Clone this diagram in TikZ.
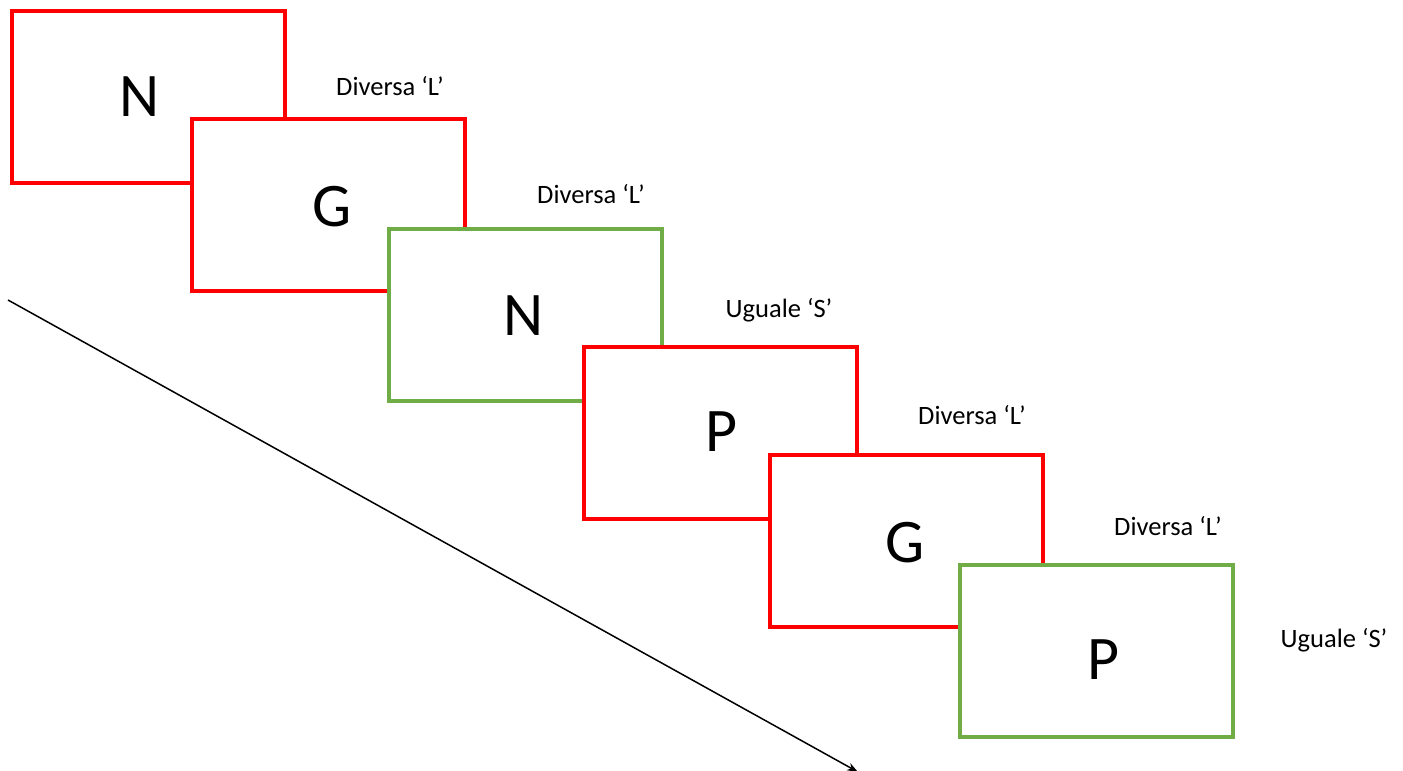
\documentclass[tikz,border=0pt]{standalone}
\usepackage{fontspec}
\setmainfont{Carlito}
\usetikzlibrary{arrows.meta}
\definecolor{boxred}{RGB}{255,0,0}
\definecolor{boxgreen}{RGB}{112,173,71}
\begin{document}
\begin{tikzpicture}[x=1pt,y=-1pt,
  card/.style={draw,line width=4pt,fill=white,minimum width=273pt,minimum height=172pt,inner sep=0pt},
  redcard/.style={card,draw=boxred},
  greencard/.style={card,draw=boxgreen},
  letter/.style={font=\fontsize{62}{62}\selectfont,inner sep=0pt,anchor=center},
  lab/.style={font=\fontsize{26.5}{26.5}\selectfont,inner sep=0pt,anchor=center}]
\useasboundingbox (0,0) rectangle (1403,771);
\coordinate (s) at (8,300);
\coordinate (e) at (858,772);
\draw[line width=1.5pt,-{Stealth[length=11pt,width=8pt]}] (s) -- (e);
\node[redcard] (b1) at (148.5,97) {};
\node[letter] (t1) at (140,97) {N};
\node[redcard] (b2) at (328,204.5) {};
\node[letter] (t2) at (332,207) {G};
\node[greencard] (b3) at (525,314.5) {};
\node[letter] (t3) at (524,316) {N};
\node[redcard] (b4) at (720,433) {};
\node[letter] (t4) at (722,432) {P};
\node[redcard] (b5) at (906,540.5) {};
\node[letter] (t5) at (905,543) {G};
\node[greencard] (b6) at (1096.5,651) {};
\node[letter] (t6) at (1104,660) {P};
\node[lab] (l1) at (390,86) {Diversa ‘L’};
\node[lab] (l2) at (591,194) {Diversa ‘L’};
\node[lab] (l3) at (779,310) {Uguale ‘S’};
\node[lab] (l4) at (972,415) {Diversa ‘L’};
\node[lab] (l5) at (1168,526) {Diversa ‘L’};
\node[lab] (l6) at (1334,640) {Uguale ‘S’};
\end{tikzpicture}
\end{document}
